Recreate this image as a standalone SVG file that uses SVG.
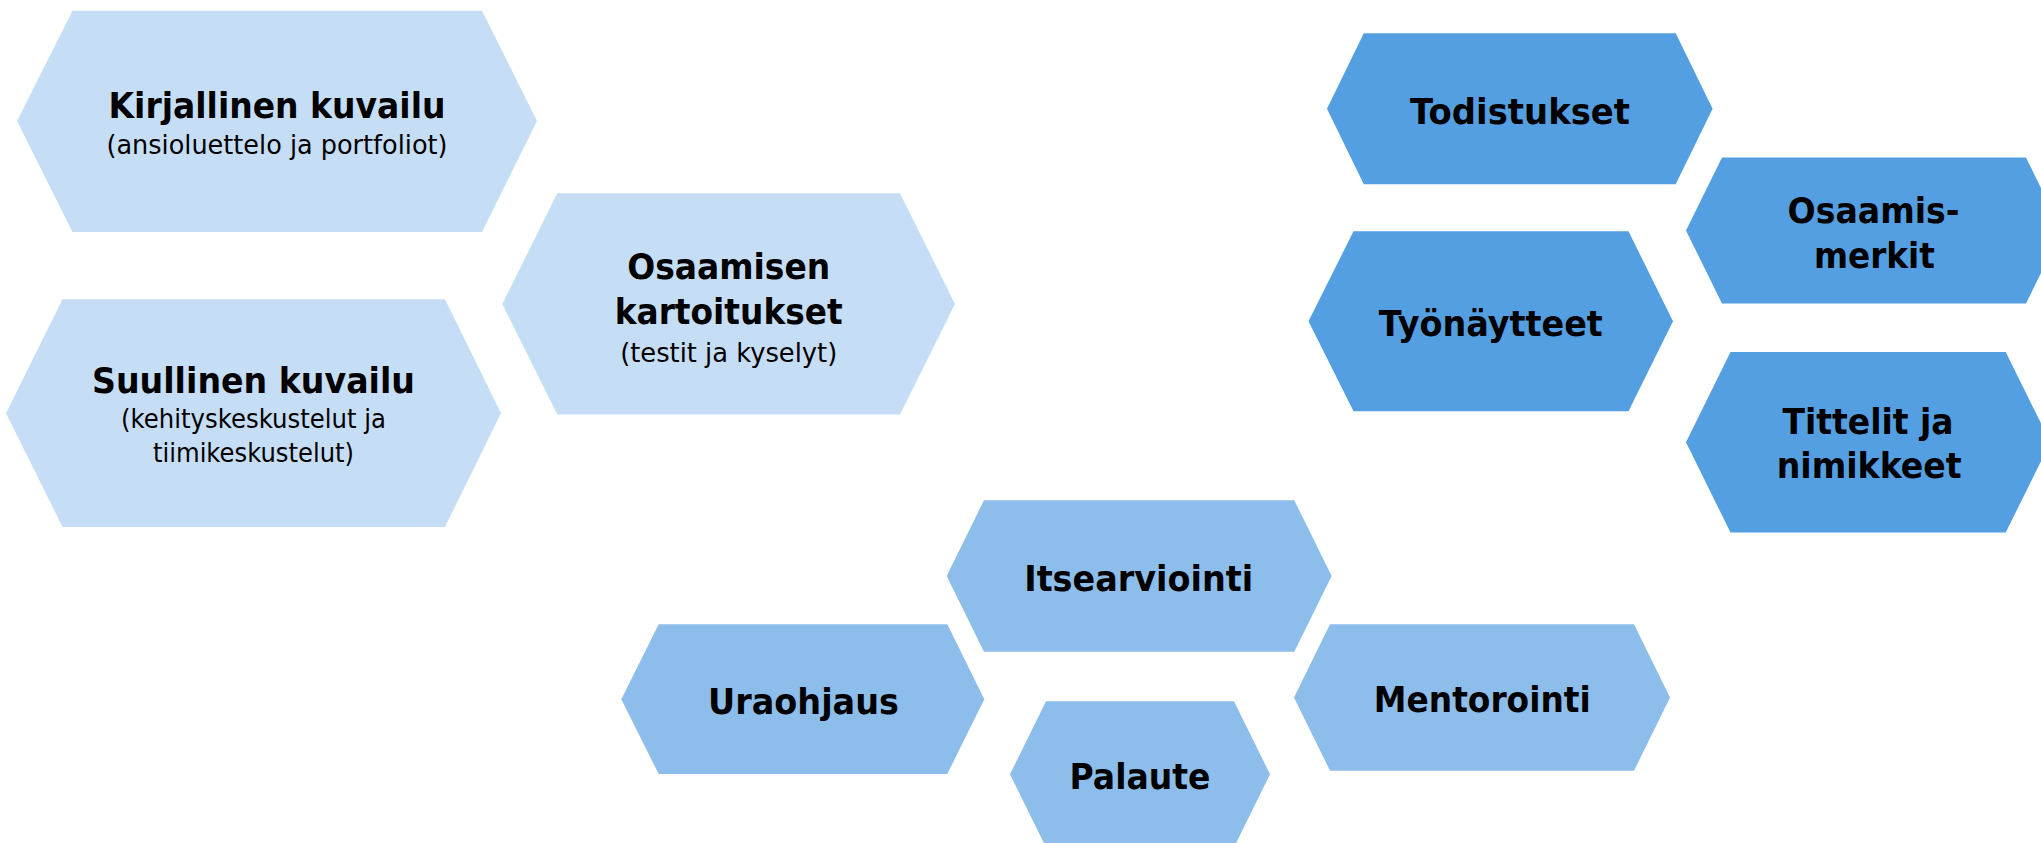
<svg xmlns="http://www.w3.org/2000/svg" width="2041" height="843" viewBox="0 0 2041 843">
<style>
.light{fill:#C6DEF5}
.mid{fill:#8DBEEB}
.dark{fill:#549FE1}
.b{font-family:"DejaVu Sans",Verdana,sans-serif;font-weight:bold;font-size:36px;fill:#000;text-anchor:middle}
.r{font-family:"DejaVu Sans",Verdana,sans-serif;font-size:26px;fill:#000;text-anchor:middle}
</style>
<rect width="2041" height="843" fill="#FFFFFF"/>
<g id="connectors"/>
<g id="kirjallinen">
<polygon class="light" points="17,121 72.5,10.7 482,10.7 537,121 482,232 72.5,232"/>
<text class="b" x="277" y="118" textLength="337" lengthAdjust="spacingAndGlyphs">Kirjallinen kuvailu</text>
<text class="r" x="277" y="154" textLength="341" lengthAdjust="spacingAndGlyphs">(ansioluettelo ja portfoliot)</text>
</g>
<g id="suullinen">
<polygon class="light" points="6,413.2 62.5,299.3 445,299.3 501,413.2 445,527 62.5,527"/>
<text class="b" x="253.5" y="393.3" textLength="323" lengthAdjust="spacingAndGlyphs">Suullinen kuvailu</text>
<text class="r" x="253.5" y="428.3" textLength="265" lengthAdjust="spacingAndGlyphs">(kehityskeskustelut ja</text>
<text class="r" x="253.5" y="461.7" textLength="201" lengthAdjust="spacingAndGlyphs">tiimikeskustelut)</text>
</g>
<g id="kartoitukset">
<polygon class="light" points="502.3,304 557.3,193.3 900,193.3 955,304 900,414.5 557.3,414.5"/>
<text class="b" x="728.7" y="279.3" textLength="203" lengthAdjust="spacingAndGlyphs">Osaamisen</text>
<text class="b" x="728.7" y="324" textLength="228" lengthAdjust="spacingAndGlyphs">kartoitukset</text>
<text class="r" x="728.7" y="361.7" textLength="217" lengthAdjust="spacingAndGlyphs">(testit ja kyselyt)</text>
</g>
<g id="todistukset">
<polygon class="dark" points="1327,108.8 1363.8,33.3 1675.7,33.3 1712.6,108.8 1675.7,184.3 1363.8,184.3"/>
<text class="b" x="1520" y="124" textLength="220" lengthAdjust="spacingAndGlyphs">Todistukset</text>
</g>
<g id="osaamismerkit">
<polygon class="dark" points="1686,230.5 1722,157.5 2026,157.5 2062,230.5 2026,303.5 1722,303.5"/>
<text class="b" x="1873.6" y="222.5" textLength="172" lengthAdjust="spacingAndGlyphs">Osaamis-</text>
<text class="b" x="1874.4" y="268" textLength="121" lengthAdjust="spacingAndGlyphs">merkit</text>
</g>
<g id="tyonaytteet">
<polygon class="dark" points="1308.5,321.3 1353.5,231.3 1628.5,231.3 1673,321.3 1628.5,411.3 1353.5,411.3"/>
<text class="b" x="1490.8" y="335.7" textLength="224" lengthAdjust="spacingAndGlyphs">Työnäytteet</text>
</g>
<g id="tittelit">
<polygon class="dark" points="1686,442.3 1730.5,352 2005.7,352 2050.4,442.3 2005.7,532.5 1730.5,532.5"/>
<text class="b" x="1868" y="434.3" textLength="171" lengthAdjust="spacingAndGlyphs">Tittelit ja</text>
<text class="b" x="1869.2" y="478.3" textLength="185" lengthAdjust="spacingAndGlyphs">nimikkeet</text>
</g>
<g id="itsearviointi">
<polygon class="mid" points="946.7,576 984,500.3 1294.3,500.3 1331.7,576 1294.3,651.7 984,651.7"/>
<text class="b" x="1138.7" y="591" textLength="229" lengthAdjust="spacingAndGlyphs">Itsearviointi</text>
</g>
<g id="uraohjaus">
<polygon class="mid" points="621.3,699.2 658.7,624.3 947.3,624.3 984.3,699.2 947.3,774 658.7,774"/>
<text class="b" x="803.5" y="713.5" textLength="191" lengthAdjust="spacingAndGlyphs">Uraohjaus</text>
</g>
<g id="mentorointi">
<polygon class="mid" points="1294,697.5 1330,624.3 1634,624.3 1670,697.5 1634,770.7 1330,770.7"/>
<text class="b" x="1482.3" y="712.3" textLength="217" lengthAdjust="spacingAndGlyphs">Mentorointi</text>
</g>
<g id="palaute">
<polygon class="mid" points="1010,774.3 1046,701.3 1234,701.3 1270,774.3 1234,847.3 1046,847.3"/>
<text class="b" x="1140" y="789" textLength="141" lengthAdjust="spacingAndGlyphs">Palaute</text>
</g>
</svg>
